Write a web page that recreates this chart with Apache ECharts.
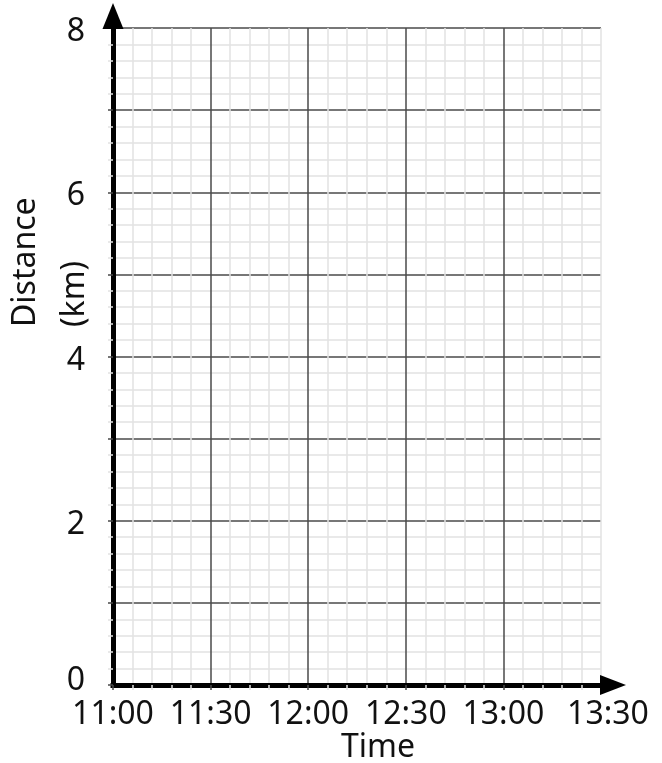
<!DOCTYPE html>
<html>
<head>
<meta charset="utf-8">
<script src="https://cdn.jsdelivr.net/npm/echarts@6/dist/echarts.min.js"></script>
<style>
  html, body { margin: 0; padding: 0; background: #fff; }
  #chart { width: 662px; height: 763px; }
</style>
</head>
<body>
<div id="chart"></div>
<script>
// ---- data ----
const xTickLabels = ['11:00', '11:30', '12:00', '12:30', '13:00', '13:30'];
const xStepMinutes = 30;
const xMaxMinutes = 150;
const yTickLabels = ['0', '', '2', '', '4', '', '6', '', '8'];
const yStep = 1;
const yMax = 8;
const distanceData = []; // blank distance-time graph
const xTitle = 'Time';
const yTitleLines = ['Distance', '(km)'];

const FONT = 'Noto Sans';
const MAJOR = '#4a4a4a';
const MINOR = '#e2e2e2';
const TEXT = '#111';

const chart = echarts.init(document.getElementById('chart'), null, { renderer: 'canvas' });

const xSplitColors = xTickLabels.map((_, i) => i === xTickLabels.length - 1 ? MINOR : MAJOR);
const labelRich = {
  n: { fontFamily: FONT, fontSize: 32, color: TEXT, padding: [8, 0, 0, 0] },
  zero: { fontFamily: FONT, fontSize: 32, color: TEXT, padding: [0, 0, 8, 0] },
  x: { fontFamily: FONT, fontSize: 32, color: TEXT },
  xlast: { fontFamily: FONT, fontSize: 32, color: TEXT, padding: [0, 0, 6, 14] }
};

const option = {
  backgroundColor: '#fff',
  animation: false,
  grid: { left: 113, right: 61, top: 28, bottom: 78, containLabel: false, outerBoundsMode: 'none' },
  xAxis: {
    type: 'value',
    min: 0,
    max: xMaxMinutes,
    interval: xStepMinutes,
    axisLine: {
      show: true,
      symbol: ['none', 'triangle'],
      symbolSize: [20, 26],
      symbolOffset: [0, 12],
      lineStyle: { color: '#000', width: 5, cap: 'square' }
    },
    axisTick: { show: true, length: 5, lineStyle: { color: MAJOR, width: 1.5 } },
    minorTick: { show: true, splitNumber: 5, length: 5, lineStyle: { color: MINOR, width: 1.5 } },
    splitLine: { show: true, lineStyle: { color: xSplitColors, width: 1.5 } },
    minorSplitLine: { show: true, lineStyle: { color: MINOR, width: 1.5 } },
    axisLabel: {
      formatter: (v) => {
        const i = Math.round(v / xStepMinutes);
        const t = xTickLabels[i] || '';
        return i === xTickLabels.length - 1 ? '{xlast|' + t + '}' : '{x|' + t + '}';
      },
      rich: labelRich,
      fontFamily: FONT, fontSize: 32, color: TEXT, margin: 14
    }
  },
  yAxis: {
    type: 'value',
    min: 0,
    max: yMax,
    interval: yStep,
    axisLine: {
      show: true,
      symbol: ['none', 'triangle'],
      symbolSize: [21, 26],
      symbolOffset: [0, 12],
      lineStyle: { color: '#000', width: 5, cap: 'square' }
    },
    axisTick: { show: true, length: 5, lineStyle: { color: MAJOR, width: 1.5 } },
    minorTick: { show: true, splitNumber: 5, length: 5, lineStyle: { color: MINOR, width: 1.5 } },
    splitLine: { show: true, lineStyle: { color: MAJOR, width: 1.5 } },
    minorSplitLine: { show: true, lineStyle: { color: MINOR, width: 1.5 } },
    axisLabel: {
      formatter: (v) => {
        const t = yTickLabels[Math.round(v / yStep)] || '';
        if (!t) return '';
        return v === 0 ? '{zero|' + t + '}' : '{n|' + t + '}';
      },
      rich: labelRich,
      fontFamily: FONT, fontSize: 32, color: TEXT, margin: 28
    }
  },
  graphic: [
    {
      type: 'text', x: 378, y: 748,
      style: { text: xTitle, font: '32px "' + FONT + '"', fill: TEXT, textAlign: 'center', textVerticalAlign: 'middle' }
    },
    {
      type: 'text', x: 26, y: 327, rotation: Math.PI / 2,
      style: { text: yTitleLines[0], font: '32px "' + FONT + '"', fill: TEXT, textAlign: 'left', textVerticalAlign: 'middle' }
    },
    {
      type: 'text', x: 75, y: 327, rotation: Math.PI / 2,
      style: { text: yTitleLines[1], font: '32px "' + FONT + '"', fill: TEXT, textAlign: 'left', textVerticalAlign: 'middle' }
    }
  ],
  series: [
    { type: 'line', data: distanceData, showSymbol: false }
  ]
};

chart.setOption(option);
</script>
</body>
</html>
